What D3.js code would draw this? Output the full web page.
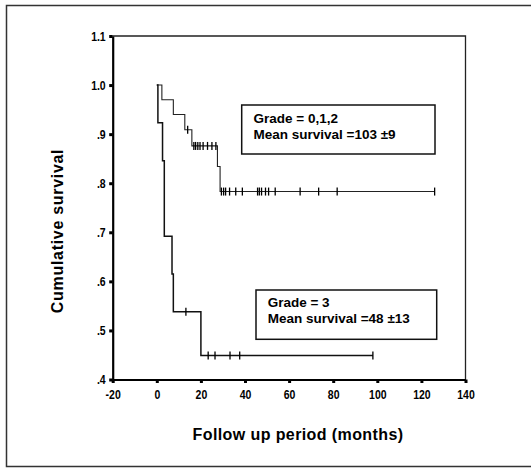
<!DOCTYPE html>
<html>
<head>
<meta charset="utf-8">
<script src="https://cdn.jsdelivr.net/npm/d3@7"></script>
<style>
  body { margin: 0; background: #fff; }
  svg { display: block; }
  .tick-lab { font-family: "Liberation Sans", Arial, sans-serif; font-weight: bold; font-size: 12.5px; fill: #000; }
  .title { font-family: "Liberation Sans", Arial, sans-serif; font-weight: bold; font-size: 16px; fill: #000; }
  .note { font-family: "Liberation Sans", Arial, sans-serif; font-weight: bold; font-size: 13.5px; fill: #000; }
</style>
</head>
<body>
<div id="chart"></div>
<script>
// tick values
var xTicks = [-20, 0, 20, 40, 60, 80, 100, 120, 140];
var yTicks = [0.4, 0.5, 0.6, 0.7, 0.8, 0.9, 1.0, 1.1];

// Grade = 0,1,2 : step times (months) and survival after each step
var g012Time = [0, 2.3, 7.5, 12.7, 15.9, 27.5, 28.7];
var g012Surv = [1.0, 0.970, 0.940, 0.909, 0.876, 0.834, 0.783];
var g012End = 126;
var g012Cens = [14.0, 16.8, 17.6, 18.6, 19.6, 21, 23, 25, 26.8,
                29.3, 30.3, 31.2, 33, 35.8, 38.8, 45.7, 46.5, 47.5, 49.3, 50.7, 53.7, 65, 73.4, 81.8, 126];

// Grade = 3
var g3Time = [0, 0.5, 2.6, 3.4, 6.9, 7.5, 20];
var g3Surv = [1.0, 0.923, 0.846, 0.692, 0.615, 0.538, 0.449];
var g3End = 98;
var g3Cens = [13.2, 23.3, 26.4, 33.2, 37.6, 98];

var notes = [
  {lines: ["Grade = 0,1,2", "Mean survival =103 \u00b19"]},
  {lines: ["Grade = 3", "Mean survival =48 \u00b113"]}
];

var W = 531, H = 468;
var plot = {left: 112.7, right: 465.5, top: 36, bottom: 379.5};
var narrow = 0.84;

var svg = d3.select("#chart").append("svg")
    .attr("width", W)
    .attr("height", H);

// outer frame of the figure
svg.append("path")
    .attr("d", "M540,5.5H6.5V466.5H540")
    .attr("fill", "none")
    .attr("stroke", "#333")
    .attr("stroke-width", 1.5);

var x = d3.scaleLinear().domain([-20, 140]).range([plot.left, plot.right]);
var y = d3.scaleLinear().domain([0.4, 1.1]).range([plot.bottom, plot.top]);

// top and right border
svg.append("path")
    .attr("d", "M" + plot.left + "," + plot.top + "H" + plot.right + "V" + plot.bottom)
    .attr("fill", "none")
    .attr("stroke", "#222")
    .attr("stroke-width", 1.3);

function fmtY(v) {
  if (v >= 1) return v.toFixed(1);
  return "." + Math.round(v * 10);
}

var yAxis = d3.axisLeft(y).tickValues(yTicks).tickSize(0).tickPadding(8).tickFormat(fmtY);
var gy = svg.append("g")
    .attr("transform", "translate(" + plot.left + ",0)")
    .call(yAxis);
gy.select(".domain").attr("stroke", "#000").attr("stroke-width", 2.2);
gy.selectAll(".tick text").attr("class", "tick-lab").attr("dy", "0.35em")
    .attr("x", -7 / narrow).attr("transform", "scale(" + narrow + ",1)");
gy.selectAll(".tick").append("rect")
    .attr("x", -3.5).attr("y", -1.5).attr("width", 3.5).attr("height", 3).attr("fill", "#000");

var xAxis = d3.axisBottom(x).tickValues(xTicks).tickSize(0).tickPadding(10)
    .tickFormat(function(d){ return String(d); });
var gx = svg.append("g")
    .attr("transform", "translate(0," + plot.bottom + ")")
    .call(xAxis);
gx.select(".domain").attr("stroke", "#000").attr("stroke-width", 2.2);
gx.selectAll(".tick text").attr("class", "tick-lab").attr("y", 11).attr("dy", "0.71em")
    .attr("transform", "scale(" + narrow + ",1)");
gx.selectAll(".tick").append("rect")
    .attr("x", -1.5).attr("y", 0).attr("width", 3).attr("height", 3.5).attr("fill", "#000");

// survival curves
function stepPoints(times, surv, end) {
  var pts = times.map(function(t, i){ return [t, surv[i]]; });
  pts.push([end, surv[surv.length - 1]]);
  return pts;
}
function survAt(times, surv, t) {
  var v = surv[0];
  for (var i = 0; i < times.length; i++) { if (times[i] <= t) v = surv[i]; }
  return v;
}

var line = d3.line()
    .x(function(d){ return x(d[0]); })
    .y(function(d){ return y(d[1]); })
    .curve(d3.curveStepAfter);

var groups = [
  {time: g012Time, surv: g012Surv, end: g012End, cens: g012Cens, color: "#222", width: 1.1},
  {time: g3Time, surv: g3Surv, end: g3End, cens: g3Cens, color: "#111", width: 1.5}
];

groups.forEach(function(g){
  svg.append("path")
      .datum(stepPoints(g.time, g.surv, g.end))
      .attr("d", line)
      .attr("fill", "none")
      .attr("stroke", g.color)
      .attr("stroke-width", g.width);

  svg.selectAll(null)
      .data(g.cens)
    .enter().append("line")
      .attr("x1", function(t){ return x(t); })
      .attr("x2", function(t){ return x(t); })
      .attr("y1", function(t){ return y(survAt(g.time, g.surv, t)) - 4; })
      .attr("y2", function(t){ return y(survAt(g.time, g.surv, t)) + 4; })
      .attr("stroke", "#000")
      .attr("stroke-width", 1.3);
});

// annotation boxes
var boxes = [
  {x0: 241.7, y0: 105, x1: 435, y1: 154, tx: 253.5, ty: 123.3},
  {x0: 256, y0: 290, x1: 436.7, y1: 339.3, tx: 267.7, ty: 307.3}
];
boxes.forEach(function(b, i){
  svg.append("rect")
      .attr("x", b.x0).attr("y", b.y0)
      .attr("width", b.x1 - b.x0).attr("height", b.y1 - b.y0)
      .attr("fill", "none")
      .attr("stroke", "#111")
      .attr("stroke-width", 1.5);
  svg.append("text")
      .attr("class", "note")
      .attr("x", b.tx).attr("y", b.ty)
      .text(notes[i].lines[0]);
  svg.append("text")
      .attr("class", "note")
      .attr("x", b.tx).attr("y", b.ty + 16)
      .text(notes[i].lines[1]);
});

// axis titles
svg.append("text")
    .attr("class", "title")
    .attr("text-anchor", "middle")
    .attr("transform", "translate(63,231) rotate(-90)")
    .style("letter-spacing", "0.7px")
    .text("Cumulative survival");

svg.append("text")
    .attr("class", "title")
    .attr("text-anchor", "middle")
    .attr("x", 298).attr("y", 440)
    .style("letter-spacing", "0.4px")
    .text("Follow up period (months)");
</script>
</body>
</html>
